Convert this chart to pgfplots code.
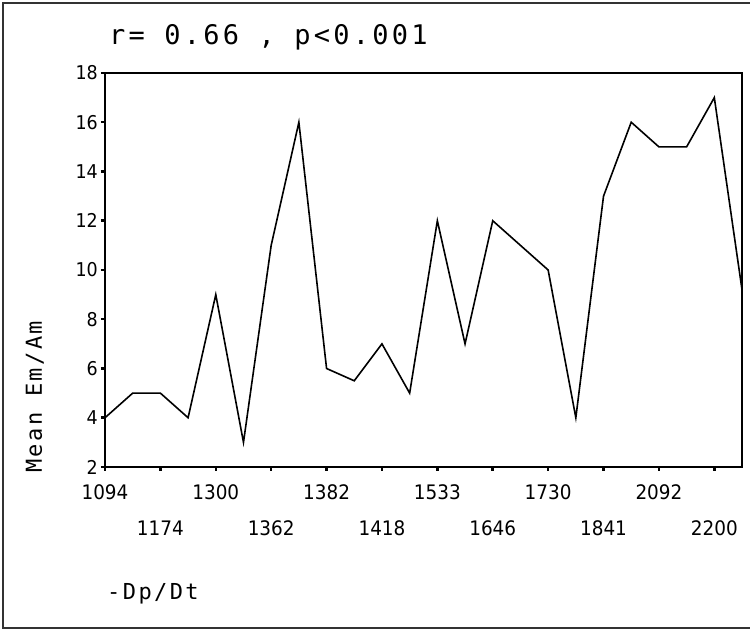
\documentclass[border=0pt]{standalone}
\usepackage{pgfplots}
\pgfplotsset{compat=1.18}
\usepackage{fontspec}
\setmainfont{DejaVu Sans}
\newfontfamily\monof[LetterSpace=11]{DejaVu Sans Mono}
\newfontfamily\titf[LetterSpace=12]{DejaVu Sans Mono}
\newfontfamily\tickf[FakeStretch=0.92]{DejaVu Sans}

\pgfplotstableread{
idx val
0 4
1 5
2 5
3 4
4 9
5 3
6 11
7 16
8 6
9 5.5
10 7
11 5
12 12
13 7
14 12
15 11
16 10
17 4
18 13
19 16
20 15
21 15
22 17
23 9.2
}\datatab

\begin{document}
\begin{tikzpicture}[x=1bp,y=1bp]
\useasboundingbox (-105,-165) rectangle (645,467);
\draw[line width=2bp, black!80] (650,464) -- (-102,464) -- (-102,-161) -- (650,-161);
\begin{axis}[at={(0,0)}, anchor=south west, scale only axis,
  width=637bp, height=394bp,
  xmin=0, xmax=23, ymin=2, ymax=18,
  /pgf/number format/assume math mode=true,
  ytick={2,4,...,18},
  xtick={0,4,8,12,16,20},
  xticklabels={1094,1300,1382,1533,1730,2092},
  extra x ticks={2,6,10,14,18,22},
  extra x tick labels={1174,1362,1418,1646,1841,2200},
  extra x tick style={grid=none, xticklabel style={yshift=-35bp}},
  axis line style={line width=2bp, black},
  tick style={line width=2.5bp, black},
  major tick length=4bp,
  tick align=outside,
  xtick pos=bottom, ytick pos=left,
  xticklabel style={font={\tickf\fontsize{20bp}{20bp}\selectfont}, anchor=base, yshift=-29bp},
  yticklabel style={font={\tickf\fontsize{19bp}{20bp}\selectfont}, inner sep=3bp},
  ]
\addplot[black, line width=1.6bp, mark=none] table[x=idx, y=val] {\datatab};
\end{axis}
\node[font={\titf\fontsize{27bp}{27bp}\selectfont}, anchor=base west, inner sep=0pt] at (4,422) {r= 0.66 , p<0.001};
\node[font={\monof\fontsize{22bp}{22bp}\selectfont}, rotate=90, anchor=base west, inner sep=0pt] at (-63,-6) {Mean Em/Am};
\node[font={\monof\fontsize{22bp}{22bp}\selectfont}, anchor=base west, inner sep=0pt] at (2,-133) {-Dp/Dt};
\end{tikzpicture}
\end{document}
